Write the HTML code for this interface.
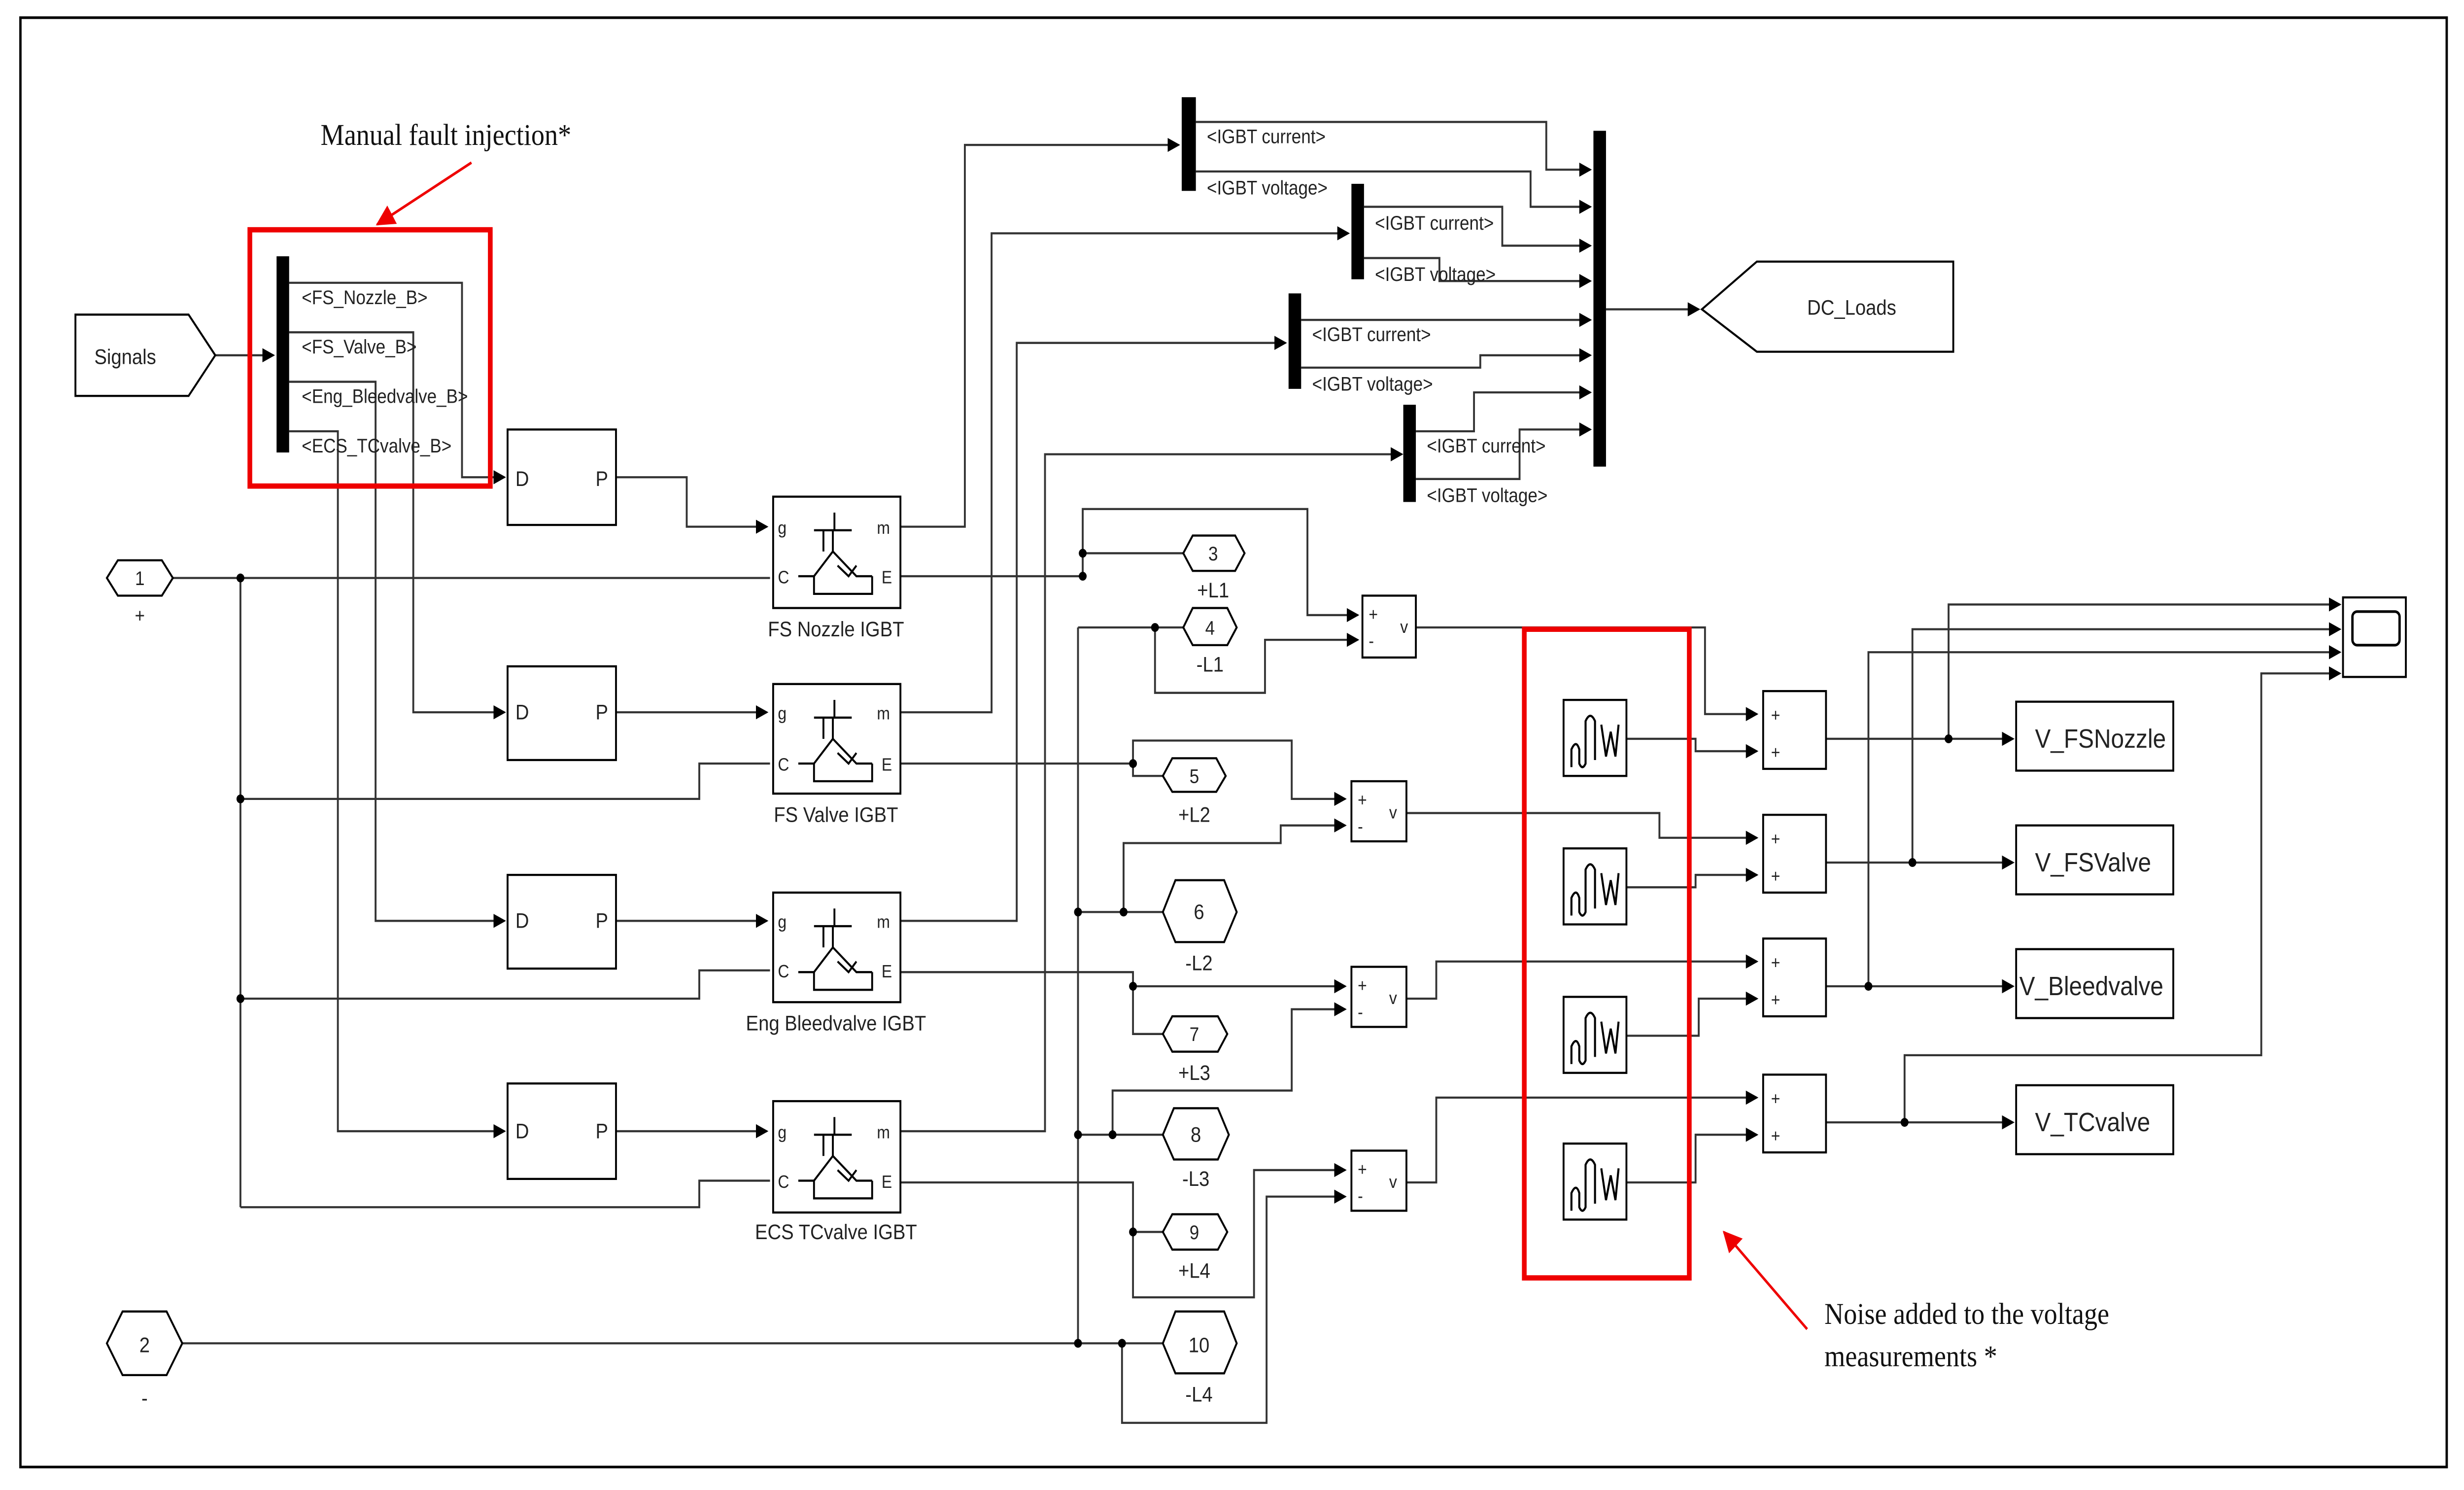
<!DOCTYPE html>
<html><head><meta charset="utf-8"><style>
html,body{margin:0;padding:0;background:#fff;width:100%;height:100%;overflow:hidden;}
svg{display:block;position:fixed;left:0;top:0;width:100vw;height:100vh;}
text{font-family:"Liberation Sans",sans-serif;fill:#222;}
.s{font-family:"Liberation Serif",serif;fill:#111;}
</style></head><body>
<svg viewBox="0 0 1568 843" preserveAspectRatio="none" xmlns="http://www.w3.org/2000/svg">
<defs>
<marker id="a" markerWidth="8" markerHeight="8" refX="7" refY="4" orient="auto" markerUnits="userSpaceOnUse"><path d="M0,0 L8,4 L0,8 z" fill="#000"/></marker>
<marker id="r" markerWidth="12" markerHeight="12" refX="11" refY="6" orient="auto" markerUnits="userSpaceOnUse"><path d="M0,0 L12,6 L0,12 z" fill="#e00"/></marker>
</defs>
<rect x="0" y="0" width="1568" height="843" fill="#fff"/>
<rect x="13" y="10" width="1544" height="820" fill="none" stroke="#000" stroke-width="1.5"/>

<g fill="none" stroke="#333" stroke-width="1.2">
<path d="M137,201 L174,201" marker-end="url(#a)"/>
<path d="M184,160 L294,160 L294,270 L321,270" marker-end="url(#a)"/>
<path d="M184,188 L263,188 L263,403 L321,403" marker-end="url(#a)"/>
<path d="M184,216 L239,216 L239,521 L321,521" marker-end="url(#a)"/>
<path d="M184,244 L215,244 L215,640 L321,640" marker-end="url(#a)"/>
<path d="M392,270 L437,270 L437,298 L488,298" marker-end="url(#a)"/>
<path d="M392,403 L488,403" marker-end="url(#a)"/>
<path d="M392,521 L488,521" marker-end="url(#a)"/>
<path d="M392,640 L488,640" marker-end="url(#a)"/>
<path d="M110,327 L490,327"/>
<path d="M153,327 L153,683"/>
<path d="M153,452 L445,452 L445,432 L490,432"/>
<path d="M153,565 L445,565 L445,549 L490,549"/>
<path d="M153,683 L445,683 L445,668 L490,668"/>
<path d="M116,760 L740,760"/>
<path d="M573,298 L614,298 L614,82 L750,82" marker-end="url(#a)"/>
<path d="M573,403 L631,403 L631,132 L858,132" marker-end="url(#a)"/>
<path d="M573,521 L647,521 L647,194 L818,194" marker-end="url(#a)"/>
<path d="M573,640 L665,640 L665,257 L892,257" marker-end="url(#a)"/>
<path d="M761,69 L984,69 L984,96 L1012,96" marker-end="url(#a)"/>
<path d="M761,97 L974,97 L974,117 L1012,117" marker-end="url(#a)"/>
<path d="M868,117 L956,117 L956,139 L1012,139" marker-end="url(#a)"/>
<path d="M868,146 L916,146 L916,159 L1012,159" marker-end="url(#a)"/>
<path d="M828,181 L1012,181" marker-end="url(#a)"/>
<path d="M828,208 L942,208 L942,201 L1012,201" marker-end="url(#a)"/>
<path d="M901,244 L938,244 L938,222 L1012,222" marker-end="url(#a)"/>
<path d="M901,271 L967,271 L967,243 L1012,243" marker-end="url(#a)"/>
<path d="M1022,175 L1081,175" marker-end="url(#a)"/>
<path d="M573,326 L689,326 L689,288 L832,288 L832,348 L864,348" marker-end="url(#a)"/>
<path d="M689,313 L753,313"/>
<path d="M686,355 L753,355"/>
<path d="M735,355 L735,392 L805,392 L805,362 L864,362" marker-end="url(#a)"/>
<path d="M686,355 L686,760"/>
<path d="M573,432 L721,432 L721,439 L740,439"/>
<path d="M721,432 L721,419 L822,419 L822,452 L856,452" marker-end="url(#a)"/>
<path d="M686,516 L740,516"/>
<path d="M715,516 L715,477 L815,477 L815,467 L856,467" marker-end="url(#a)"/>
<path d="M573,550 L721,550 L721,585 L740,585"/>
<path d="M721,558 L856,558" marker-end="url(#a)"/>
<path d="M686,642 L740,642"/>
<path d="M708,642 L708,617 L822,617 L822,571 L856,571" marker-end="url(#a)"/>
<path d="M573,669 L721,669 L721,734 L798,734 L798,662 L856,662" marker-end="url(#a)"/>
<path d="M721,697 L740,697"/>
<path d="M714,760 L714,805 L806,805 L806,677 L856,677" marker-end="url(#a)"/>
<path d="M901,355 L1085,355 L1085,404 L1118,404" marker-end="url(#a)"/>
<path d="M895,460 L1056,460 L1056,474 L1118,474" marker-end="url(#a)"/>
<path d="M895,565 L914,565 L914,544 L1118,544" marker-end="url(#a)"/>
<path d="M895,669 L914,669 L914,621 L1118,621" marker-end="url(#a)"/>
<path d="M1035,418 L1079,418 L1079,425 L1118,425" marker-end="url(#a)"/>
<path d="M1035,502 L1079,502 L1079,495 L1118,495" marker-end="url(#a)"/>
<path d="M1035,586 L1081,586 L1081,565 L1118,565" marker-end="url(#a)"/>
<path d="M1035,669 L1079,669 L1079,642 L1118,642" marker-end="url(#a)"/>
<path d="M1162,418 L1281,418" marker-end="url(#a)"/>
<path d="M1162,488 L1281,488" marker-end="url(#a)"/>
<path d="M1162,558 L1281,558" marker-end="url(#a)"/>
<path d="M1162,635 L1281,635" marker-end="url(#a)"/>
<path d="M1240,418 L1240,342 L1489,342" marker-end="url(#a)"/>
<path d="M1217,488 L1217,356 L1489,356" marker-end="url(#a)"/>
<path d="M1189,558 L1189,369 L1489,369" marker-end="url(#a)"/>
<path d="M1212,635 L1212,597 L1439,597 L1439,381 L1489,381" marker-end="url(#a)"/>
</g>

<g fill="#000">
<circle cx="153" cy="327" r="2.5"/><circle cx="153" cy="452" r="2.5"/><circle cx="153" cy="565" r="2.5"/>
<circle cx="689" cy="326" r="2.5"/><circle cx="689" cy="313" r="2.5"/><circle cx="735" cy="355" r="2.5"/>
<circle cx="721" cy="432" r="2.5"/><circle cx="686" cy="516" r="2.5"/><circle cx="715" cy="516" r="2.5"/>
<circle cx="721" cy="558" r="2.5"/><circle cx="686" cy="642" r="2.5"/><circle cx="708" cy="642" r="2.5"/>
<circle cx="721" cy="697" r="2.5"/><circle cx="686" cy="760" r="2.5"/><circle cx="714" cy="760" r="2.5"/>
<circle cx="1240" cy="418" r="2.5"/><circle cx="1217" cy="488" r="2.5"/><circle cx="1189" cy="558" r="2.5"/><circle cx="1212" cy="635" r="2.5"/>
<rect x="176" y="145" width="8" height="111"/>
<rect x="752" y="55" width="9" height="53"/>
<rect x="860" y="104" width="8" height="54"/>
<rect x="820" y="166" width="8" height="54"/>
<rect x="893" y="229" width="8" height="55"/>
<rect x="1014" y="74" width="8" height="190"/>
</g>

<g stroke="#000" stroke-width="1.2" fill="#fff">
<path d="M48,178 L120,178 L137,201 L120,224 L48,224 Z"/>
<path d="M1083,175 L1118,148 L1243,148 L1243,199 L1118,199 Z"/>
<path d="M68,327 L75,317 L103,317 L110,327 L103,337 L75,337 Z"/>
<path d="M68,760 L78,742 L106,742 L116,760 L106,778 L78,778 Z"/>
<path d="M753,313 L759,303 L786,303 L792,313 L786,323 L759,323 Z"/>
<path d="M753,355 L759,344 L781,344 L787,355 L781,365 L759,365 Z"/>
<path d="M740,439 L746,429 L774,429 L780,439 L774,448 L746,448 Z"/>
<path d="M740,516 L748,498 L779,498 L787,516 L779,533 L748,533 Z"/>
<path d="M740,585 L746,575 L775,575 L781,585 L775,595 L746,595 Z"/>
<path d="M740,642 L747,627 L775,627 L782,642 L775,656 L747,656 Z"/>
<path d="M740,697 L746,687 L775,687 L781,697 L775,707 L746,707 Z"/>
<path d="M740,760 L748,742 L779,742 L787,760 L779,777 L748,777 Z"/>
<rect x="323" y="243" width="69" height="54"/>
<rect x="323" y="377" width="69" height="53"/>
<rect x="323" y="495" width="69" height="53"/>
<rect x="323" y="613" width="69" height="54"/>
<rect x="492" y="281" width="81" height="63"/>
<rect x="492" y="387" width="81" height="62"/>
<rect x="492" y="505" width="81" height="62"/>
<rect x="492" y="623" width="81" height="63"/>
<rect x="867" y="337" width="34" height="35"/>
<rect x="860" y="442" width="35" height="34"/>
<rect x="860" y="547" width="35" height="34"/>
<rect x="860" y="651" width="35" height="34"/>
<rect x="995" y="396" width="40" height="43"/>
<rect x="995" y="480" width="40" height="43"/>
<rect x="995" y="564" width="40" height="43"/>
<rect x="995" y="647" width="40" height="43"/>
<rect x="1122" y="391" width="40" height="44"/>
<rect x="1122" y="461" width="40" height="44"/>
<rect x="1122" y="531" width="40" height="44"/>
<rect x="1122" y="608" width="40" height="44"/>
<rect x="1283" y="397" width="100" height="39"/>
<rect x="1283" y="467" width="100" height="39"/>
<rect x="1283" y="537" width="100" height="39"/>
<rect x="1283" y="614" width="100" height="39"/>
<rect x="1491" y="338" width="40" height="45"/>
</g>
<rect x="1497" y="346" width="30" height="19" rx="3" fill="none" stroke="#000" stroke-width="1.5"/>

<g fill="none" stroke="#000" stroke-width="1.2">
<g id="ig">
<path d="M508,326 L518,326 L530,312 M530,312 L530,300 M524,312 L524,300 M518,300 L542,300 M530,312 L545,326 L555,326 M531,300 L531,290"/>
<path d="M518,326 L518,336 L555,336 L555,326 M533,320 L540,326 L545,320"/>
</g>
<use href="#ig" y="106"/><use href="#ig" y="224"/><use href="#ig" y="342"/>
</g>
<g fill="none" stroke="#000" stroke-width="1.3">
<path id="nz" d="M1000,434 L1000,424 Q1003,418 1005,424 L1005,432 Q1007,436 1009,432 L1009,408 Q1012,402 1015,408 L1015,430 M1019,410 L1022,428 L1025,414 L1028,428 L1030,410"/>
<use href="#nz" y="84"/><use href="#nz" y="168"/><use href="#nz" y="251"/>
</g>

<g font-size="11">
<text x="192" y="172">&lt;FS_Nozzle_B&gt;</text>
<text x="192" y="200">&lt;FS_Valve_B&gt;</text>
<text x="192" y="228">&lt;Eng_Bleedvalve_B&gt;</text>
<text x="192" y="256">&lt;ECS_TCvalve_B&gt;</text>
<text x="768" y="81">&lt;IGBT current&gt;</text>
<text x="768" y="110">&lt;IGBT voltage&gt;</text>
<text x="875" y="130">&lt;IGBT current&gt;</text>
<text x="875" y="159">&lt;IGBT voltage&gt;</text>
<text x="835" y="193">&lt;IGBT current&gt;</text>
<text x="835" y="221">&lt;IGBT voltage&gt;</text>
<text x="908" y="256">&lt;IGBT current&gt;</text>
<text x="908" y="284">&lt;IGBT voltage&gt;</text>
</g>
<g font-size="12">
<text x="60" y="206">Signals</text>
<text x="1150" y="178">DC_Loads</text>
<text x="328" y="275">D</text><text x="379" y="275">P</text>
<text x="328" y="407">D</text><text x="379" y="407">P</text>
<text x="328" y="525">D</text><text x="379" y="525">P</text>
<text x="328" y="644">D</text><text x="379" y="644">P</text>
<text x="89" y="331" text-anchor="middle" font-size="11">1</text>
<text x="89" y="352" text-anchor="middle" font-size="11">+</text>
<text x="92" y="765" text-anchor="middle">2</text>
<text x="92" y="795" text-anchor="middle">-</text>
<text x="772" y="317" text-anchor="middle" font-size="11">3</text><text x="772" y="338" text-anchor="middle">+L1</text>
<text x="770" y="359" text-anchor="middle" font-size="11">4</text><text x="770" y="380" text-anchor="middle">-L1</text>
<text x="760" y="443" text-anchor="middle" font-size="11">5</text><text x="760" y="465" text-anchor="middle">+L2</text>
<text x="763" y="520" text-anchor="middle">6</text><text x="763" y="549" text-anchor="middle">-L2</text>
<text x="760" y="589" text-anchor="middle" font-size="11">7</text><text x="760" y="611" text-anchor="middle">+L3</text>
<text x="761" y="646" text-anchor="middle">8</text><text x="761" y="671" text-anchor="middle">-L3</text>
<text x="760" y="701" text-anchor="middle" font-size="11">9</text><text x="760" y="723" text-anchor="middle">+L4</text>
<text x="763" y="765" text-anchor="middle">10</text><text x="763" y="793" text-anchor="middle">-L4</text>
<text x="532" y="360" text-anchor="middle">FS Nozzle IGBT</text>
<text x="532" y="465" text-anchor="middle">FS Valve IGBT</text>
<text x="532" y="583" text-anchor="middle">Eng Bleedvalve IGBT</text>
<text x="532" y="701" text-anchor="middle">ECS TCvalve IGBT</text>
</g>
<g font-size="10">
<text x="495" y="302">g</text><text x="495" y="330">C</text><text x="558" y="302">m</text><text x="561" y="330">E</text>
<text x="495" y="407">g</text><text x="495" y="436">C</text><text x="558" y="407">m</text><text x="561" y="436">E</text>
<text x="495" y="525">g</text><text x="495" y="553">C</text><text x="558" y="525">m</text><text x="561" y="553">E</text>
<text x="495" y="644">g</text><text x="495" y="672">C</text><text x="558" y="644">m</text><text x="561" y="672">E</text>
<text x="871" y="351">+</text><text x="871" y="366">-</text><text x="891" y="358">v</text>
<text x="864" y="456">+</text><text x="864" y="471">-</text><text x="884" y="463">v</text>
<text x="864" y="561">+</text><text x="864" y="576">-</text><text x="884" y="568">v</text>
<text x="864" y="665">+</text><text x="864" y="680">-</text><text x="884" y="672">v</text>
<text x="1127" y="408">+</text><text x="1127" y="429">+</text>
<text x="1127" y="478">+</text><text x="1127" y="499">+</text>
<text x="1127" y="548">+</text><text x="1127" y="569">+</text>
<text x="1127" y="625">+</text><text x="1127" y="646">+</text>
</g>
<g font-size="15">
<text x="1295" y="423">V_FSNozzle</text>
<text x="1295" y="493">V_FSValve</text>
<text x="1285" y="563">V_Bleedvalve</text>
<text x="1295" y="640">V_TCvalve</text>
</g>

<rect x="159" y="130" width="153" height="145" fill="none" stroke="#e00" stroke-width="3"/>
<rect x="970" y="356" width="105" height="367" fill="none" stroke="#e00" stroke-width="3"/>
<path d="M300,92 L240,127" stroke="#e00" stroke-width="1.5" fill="none" marker-end="url(#r)"/>
<path d="M1150,752 L1097,697" stroke="#e00" stroke-width="1.5" fill="none" marker-end="url(#r)"/>
<text class="s" x="204" y="82" font-size="17">Manual fault injection*</text>
<text class="s" x="1161" y="749" font-size="17">Noise added  to the voltage</text>
<text class="s" x="1161" y="773" font-size="17">measurements *</text>
</svg>
</body></html>
